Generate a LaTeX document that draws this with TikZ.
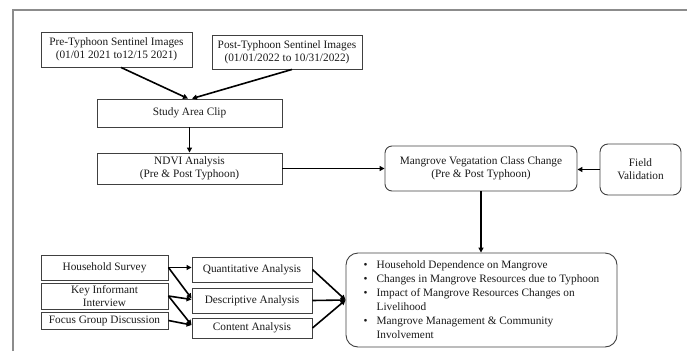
\documentclass[tikz,border=0pt]{standalone}
\usepackage{fontspec}
\setmainfont{Liberation Serif}
\usetikzlibrary{arrows.meta,calc}
\begin{document}
\begin{tikzpicture}[x=1pt,y=-1pt,
  box/.style={draw=black!75,line width=0.9pt,inner sep=0pt,align=center,text=black!90,
    font=\fontsize{11.3}{13}\selectfont},
  rbox/.style={box,rounded corners=7pt},
  arr/.style={draw=black,line width=1.6pt,-{Triangle[length=5pt,width=5pt]}},
  frame/.style={draw=black!45,line width=1.4pt}]
\useasboundingbox (0,0) rectangle (687,351);
\coordinate (fa) at (13,351);
\coordinate (fb) at (13,10);
\coordinate (fc) at (687,10);
\draw[frame] (fa) -- (fb) -- (fc);

\node[box,minimum width=151pt,minimum height=35pt] (pre) at (116.5,49.5) {Pre-Typhoon Sentinel Images\\(01/01 2021 to12/15 2021)};
\node[box,minimum width=150pt,minimum height=34pt] (post) at (287,52) {Post-Typhoon Sentinel Images\\(01/01/2022 to 10/31/2022)};
\node[box,minimum width=185pt,minimum height=28pt] (clip) at (189.5,113) {Study Area Clip};
\node[box,minimum width=185pt,minimum height=31pt] (ndvi) at (189.5,168.5) {NDVI Analysis\\(Pre \& Post Typhoon)};
\node[rbox,minimum width=192pt,minimum height=45pt] (mang) at (481,168.5) {Mangrove Vegatation Class Change\\(Pre \& Post Typhoon)};
\node[rbox,rounded corners=8pt,minimum width=81pt,minimum height=51pt] (field) at (640.5,169.5) {Field\\Validation};
\node[rbox,rounded corners=12pt,minimum width=271pt,minimum height=94pt,align=left,
  font=\fontsize{11.3}{14}\selectfont] (out) at (481.5,300)
  {\makebox[13pt][l]{\textbullet}Household Dependence on Mangrove\\
   \makebox[13pt][l]{\textbullet}Changes in Mangrove Resources due to Typhoon\\
   \makebox[13pt][l]{\textbullet}Impact of Mangrove Resources Changes on\\
   \hspace*{13pt}Livelihood\\
   \makebox[13pt][l]{\textbullet}Mangrove Management \& Community\\
   \hspace*{13pt}Involvement};

\node[box,minimum width=127pt,minimum height=25pt] (hh) at (104.5,267.5) {Household Survey};
\node[box,minimum width=127pt,minimum height=26pt] (ki) at (104.5,296) {Key Informant\\Interview};
\node[box,minimum width=127pt,minimum height=17pt] (fg) at (104.5,320.5) {Focus Group Discussion};
\node[box,minimum width=120pt,minimum height=25pt] (quant) at (252,269.5) {Quantitative Analysis};
\node[box,minimum width=120pt,minimum height=25pt] (desc) at (252,300.5) {Descriptive Analysis};
\node[box,minimum width=120pt,minimum height=20pt] (cont) at (252,328) {Content Analysis};

\draw[arr] ($(pre.south)+(4.5,0)$) -- ($(clip.north)+(-1.5,0)$);
\draw[arr] ($(post.south)+(5,0)$) -- ($(clip.north)+(2.5,0)$);
\draw[arr] (clip.south) -- (ndvi.north);
\draw[arr] (ndvi.east) -- (mang.west);
\draw[arr] (field.west) -- (field.west -| mang.east);
\draw[arr] (mang.south) -- (mang.south |- out.north);

\draw[arr] (hh.east) -- (hh.east -| quant.west);
\draw[arr] (hh.east) -- ($(desc.west)+(0,-2)$);
\draw[arr] (ki.east) -- ($(desc.west)+(0,-1)$);
\draw[arr] (ki.east) -- ($(cont.west)+(0,-3)$);
\draw[arr] (fg.east) -- ($(cont.west)+(0,-3)$);
\draw[arr] (quant.east) -- (out.west);
\draw[arr] (desc.east) -- (out.west);
\draw[arr] (cont.east) -- (out.west);
\end{tikzpicture}
\end{document}
